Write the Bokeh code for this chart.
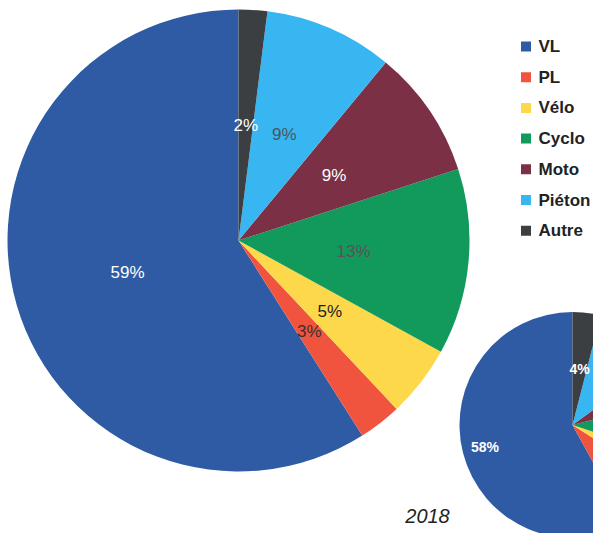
import numpy as np
from bokeh.plotting import figure
from bokeh.models import Range1d, ColumnDataSource
from bokeh.core.properties import value
from bokeh.embed import file_html
from bokeh.resources import INLINE

# ---- data ----
categories = ["VL", "PL", "Vélo", "Cyclo", "Moto", "Piéton", "Autre"]
values_main = [59, 3, 5, 13, 9, 9, 2]
values_2018 = [58, 8, 4, 9, 6, 11, 4]
year_label = "2018"

# ---- style ----
colors = ["#2f5ba5", "#f0543f", "#fdd84a", "#119a5c", "#7b3046", "#38b6f1", "#3c3f42"]
label_colors_main = ["#ffffff", "#3a3030", "#1e1e1e", "#5b5258", "#ffffff", "#4b5560", "#ffffff"]
label_colors_2018 = ["#ffffff"] * 7

W, H = 593, 533
p = figure(width=W, height=H, output_backend="svg", toolbar_location=None,
           x_range=Range1d(0, W), y_range=Range1d(0, H), min_border=0,
           outline_line_color=None)
p.axis.visible = False
p.grid.visible = False
p.background_fill_color = "white"
p.border_fill_color = "white"


def pie(vals, cx, cy, r, label_cols, font_size, font_style, label_r):
    v = np.array(vals, dtype=float)
    frac = v / v.sum()
    start = np.pi / 2 + 2 * np.pi * np.concatenate([[0], np.cumsum(frac)[:-1]])
    end = start + 2 * np.pi * frac
    mid = (start + end) / 2
    src = ColumnDataSource(dict(cat=categories, start=start, end=end, color=colors))
    p.wedge(x=cx, y=cy, radius=r, start_angle="start", end_angle="end",
            direction="anticlock", fill_color="color", line_color=None, source=src)
    lr = np.array(label_r) * r
    lx = cx + lr * np.cos(mid)
    ly = cy + lr * np.sin(mid)
    keep = (lx < W - 11) & (ly > 10)   # labels that fall on the visible page
    lsrc = ColumnDataSource(dict(
        x=lx[keep], y=ly[keep],
        text=[f"{int(x)}%" for x, k in zip(vals, keep) if k],
        col=[c for c, k in zip(label_cols, keep) if k]))
    p.text(x="x", y="y", text="text", text_color="col", source=lsrc,
           text_align="center", text_baseline="middle",
           text_font=value("Liberation Sans"), text_font_size=value(font_size),
           text_font_style=font_style)


pie(values_main, 238, 293, 231, label_colors_main, "17px", "normal", [0.5] * 7)
pie(values_2018, 572, 108.5, 113, label_colors_2018, "14px", "bold", [0.8] + [0.5] * 6)

# legend
n = len(categories)
lx = np.full(n, 525.5)
ly = 487.0 - 30.7 * np.arange(n)
p.scatter(x=lx, y=ly, marker="square", size=10, fill_color=colors, line_color=None)
p.text(x=lx + 12.5, y=ly, text=categories, text_align="left", text_baseline="middle",
       text_color="#222222", text_font=value("Liberation Sans"),
       text_font_size=value("17px"), text_font_style="bold")

# year
p.text(x=[427], y=[18], text=[year_label], text_align="center", text_baseline="middle",
       text_color="#222222", text_font=value("Liberation Sans"),
       text_font_size=value("20px"), text_font_style="italic")

open("out.html", "w").write(file_html(p, INLINE))
